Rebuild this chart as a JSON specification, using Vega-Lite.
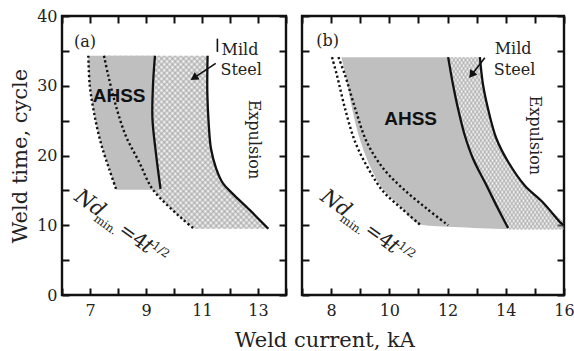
{
  "$schema": "https://vega.github.io/schema/vega-lite/v6.json",
  "background": "white",
  "padding": {"left": 8, "top": 6, "right": 2, "bottom": 2},
  "title": {"text": "Weld current, kA", "orient": "bottom", "anchor": "middle", "font": "DejaVu Serif", "fontSize": 21, "fontWeight": "normal", "color": "#222", "offset": 11, "dx": 33},
  "config": {
    "view": {"stroke": "#111", "strokeWidth": 2.4},
    "concat": {"spacing": 10},
    "axis": {"domain": false, "grid": false, "ticks": true, "tickSize": -7, "tickWidth": 2, "tickColor": "#111", "labelFont": "DejaVu Serif", "labelFontSize": 16, "labelColor": "#222", "labelPadding": 12, "labelFlush": false, "labelOverlap": false, "titleFont": "DejaVu Serif", "titleFontSize": 21, "titleFontWeight": "normal", "titleColor": "#222", "titlePadding": 6, "minExtent": 0},
    "axisX": {"labelPadding": 14},
    "style": {
      "h1": {"color": {"gradient": "linear", "x1": 0, "y1": 0, "x2": 1, "y2": 1, "stops": [
        {"offset":0,"color":"#99999990"},{"offset":0.0083,"color":"#99999900"},{"offset":0.0167,"color":"#99999990"},{"offset":0.025,"color":"#99999900"},{"offset":0.0333,"color":"#99999990"},{"offset":0.0417,"color":"#99999900"},{"offset":0.05,"color":"#99999990"},{"offset":0.0583,"color":"#99999900"},{"offset":0.0667,"color":"#99999990"},{"offset":0.075,"color":"#99999900"},{"offset":0.0833,"color":"#99999990"},{"offset":0.0917,"color":"#99999900"},
        {"offset":0.1,"color":"#99999990"},{"offset":0.1083,"color":"#99999900"},{"offset":0.1167,"color":"#99999990"},{"offset":0.125,"color":"#99999900"},{"offset":0.1333,"color":"#99999990"},{"offset":0.1417,"color":"#99999900"},{"offset":0.15,"color":"#99999990"},{"offset":0.1583,"color":"#99999900"},{"offset":0.1667,"color":"#99999990"},{"offset":0.175,"color":"#99999900"},{"offset":0.1833,"color":"#99999990"},{"offset":0.1917,"color":"#99999900"},
        {"offset":0.2,"color":"#99999990"},{"offset":0.2083,"color":"#99999900"},{"offset":0.2167,"color":"#99999990"},{"offset":0.225,"color":"#99999900"},{"offset":0.2333,"color":"#99999990"},{"offset":0.2417,"color":"#99999900"},{"offset":0.25,"color":"#99999990"},{"offset":0.2583,"color":"#99999900"},{"offset":0.2667,"color":"#99999990"},{"offset":0.275,"color":"#99999900"},{"offset":0.2833,"color":"#99999990"},{"offset":0.2917,"color":"#99999900"},
        {"offset":0.3,"color":"#99999990"},{"offset":0.3083,"color":"#99999900"},{"offset":0.3167,"color":"#99999990"},{"offset":0.325,"color":"#99999900"},{"offset":0.3333,"color":"#99999990"},{"offset":0.3417,"color":"#99999900"},{"offset":0.35,"color":"#99999990"},{"offset":0.3583,"color":"#99999900"},{"offset":0.3667,"color":"#99999990"},{"offset":0.375,"color":"#99999900"},{"offset":0.3833,"color":"#99999990"},{"offset":0.3917,"color":"#99999900"},
        {"offset":0.4,"color":"#99999990"},{"offset":0.4083,"color":"#99999900"},{"offset":0.4167,"color":"#99999990"},{"offset":0.425,"color":"#99999900"},{"offset":0.4333,"color":"#99999990"},{"offset":0.4417,"color":"#99999900"},{"offset":0.45,"color":"#99999990"},{"offset":0.4583,"color":"#99999900"},{"offset":0.4667,"color":"#99999990"},{"offset":0.475,"color":"#99999900"},{"offset":0.4833,"color":"#99999990"},{"offset":0.4917,"color":"#99999900"},
        {"offset":0.5,"color":"#99999990"},{"offset":0.5083,"color":"#99999900"},{"offset":0.5167,"color":"#99999990"},{"offset":0.525,"color":"#99999900"},{"offset":0.5333,"color":"#99999990"},{"offset":0.5417,"color":"#99999900"},{"offset":0.55,"color":"#99999990"},{"offset":0.5583,"color":"#99999900"},{"offset":0.5667,"color":"#99999990"},{"offset":0.575,"color":"#99999900"},{"offset":0.5833,"color":"#99999990"},{"offset":0.5917,"color":"#99999900"},
        {"offset":0.6,"color":"#99999990"},{"offset":0.6083,"color":"#99999900"},{"offset":0.6167,"color":"#99999990"},{"offset":0.625,"color":"#99999900"},{"offset":0.6333,"color":"#99999990"},{"offset":0.6417,"color":"#99999900"},{"offset":0.65,"color":"#99999990"},{"offset":0.6583,"color":"#99999900"},{"offset":0.6667,"color":"#99999990"},{"offset":0.675,"color":"#99999900"},{"offset":0.6833,"color":"#99999990"},{"offset":0.6917,"color":"#99999900"},
        {"offset":0.7,"color":"#99999990"},{"offset":0.7083,"color":"#99999900"},{"offset":0.7167,"color":"#99999990"},{"offset":0.725,"color":"#99999900"},{"offset":0.7333,"color":"#99999990"},{"offset":0.7417,"color":"#99999900"},{"offset":0.75,"color":"#99999990"},{"offset":0.7583,"color":"#99999900"},{"offset":0.7667,"color":"#99999990"},{"offset":0.775,"color":"#99999900"},{"offset":0.7833,"color":"#99999990"},{"offset":0.7917,"color":"#99999900"},
        {"offset":0.8,"color":"#99999990"},{"offset":0.8083,"color":"#99999900"},{"offset":0.8167,"color":"#99999990"},{"offset":0.825,"color":"#99999900"},{"offset":0.8333,"color":"#99999990"},{"offset":0.8417,"color":"#99999900"},{"offset":0.85,"color":"#99999990"},{"offset":0.8583,"color":"#99999900"},{"offset":0.8667,"color":"#99999990"},{"offset":0.875,"color":"#99999900"},{"offset":0.8833,"color":"#99999990"},{"offset":0.8917,"color":"#99999900"},
        {"offset":0.9,"color":"#99999990"},{"offset":0.9083,"color":"#99999900"},{"offset":0.9167,"color":"#99999990"},{"offset":0.925,"color":"#99999900"},{"offset":0.9333,"color":"#99999990"},{"offset":0.9417,"color":"#99999900"},{"offset":0.95,"color":"#99999990"},{"offset":0.9583,"color":"#99999900"},{"offset":0.9667,"color":"#99999990"},{"offset":0.975,"color":"#99999900"},{"offset":0.9833,"color":"#99999990"},{"offset":0.9917,"color":"#99999900"},
        {"offset":1,"color":"#99999990"}]}},
      "h2": {"color": {"gradient": "linear", "x1": 1, "y1": 0, "x2": 0, "y2": 1, "stops": [
        {"offset":0,"color":"#99999990"},{"offset":0.0083,"color":"#99999900"},{"offset":0.0167,"color":"#99999990"},{"offset":0.025,"color":"#99999900"},{"offset":0.0333,"color":"#99999990"},{"offset":0.0417,"color":"#99999900"},{"offset":0.05,"color":"#99999990"},{"offset":0.0583,"color":"#99999900"},{"offset":0.0667,"color":"#99999990"},{"offset":0.075,"color":"#99999900"},{"offset":0.0833,"color":"#99999990"},{"offset":0.0917,"color":"#99999900"},
        {"offset":0.1,"color":"#99999990"},{"offset":0.1083,"color":"#99999900"},{"offset":0.1167,"color":"#99999990"},{"offset":0.125,"color":"#99999900"},{"offset":0.1333,"color":"#99999990"},{"offset":0.1417,"color":"#99999900"},{"offset":0.15,"color":"#99999990"},{"offset":0.1583,"color":"#99999900"},{"offset":0.1667,"color":"#99999990"},{"offset":0.175,"color":"#99999900"},{"offset":0.1833,"color":"#99999990"},{"offset":0.1917,"color":"#99999900"},
        {"offset":0.2,"color":"#99999990"},{"offset":0.2083,"color":"#99999900"},{"offset":0.2167,"color":"#99999990"},{"offset":0.225,"color":"#99999900"},{"offset":0.2333,"color":"#99999990"},{"offset":0.2417,"color":"#99999900"},{"offset":0.25,"color":"#99999990"},{"offset":0.2583,"color":"#99999900"},{"offset":0.2667,"color":"#99999990"},{"offset":0.275,"color":"#99999900"},{"offset":0.2833,"color":"#99999990"},{"offset":0.2917,"color":"#99999900"},
        {"offset":0.3,"color":"#99999990"},{"offset":0.3083,"color":"#99999900"},{"offset":0.3167,"color":"#99999990"},{"offset":0.325,"color":"#99999900"},{"offset":0.3333,"color":"#99999990"},{"offset":0.3417,"color":"#99999900"},{"offset":0.35,"color":"#99999990"},{"offset":0.3583,"color":"#99999900"},{"offset":0.3667,"color":"#99999990"},{"offset":0.375,"color":"#99999900"},{"offset":0.3833,"color":"#99999990"},{"offset":0.3917,"color":"#99999900"},
        {"offset":0.4,"color":"#99999990"},{"offset":0.4083,"color":"#99999900"},{"offset":0.4167,"color":"#99999990"},{"offset":0.425,"color":"#99999900"},{"offset":0.4333,"color":"#99999990"},{"offset":0.4417,"color":"#99999900"},{"offset":0.45,"color":"#99999990"},{"offset":0.4583,"color":"#99999900"},{"offset":0.4667,"color":"#99999990"},{"offset":0.475,"color":"#99999900"},{"offset":0.4833,"color":"#99999990"},{"offset":0.4917,"color":"#99999900"},
        {"offset":0.5,"color":"#99999990"},{"offset":0.5083,"color":"#99999900"},{"offset":0.5167,"color":"#99999990"},{"offset":0.525,"color":"#99999900"},{"offset":0.5333,"color":"#99999990"},{"offset":0.5417,"color":"#99999900"},{"offset":0.55,"color":"#99999990"},{"offset":0.5583,"color":"#99999900"},{"offset":0.5667,"color":"#99999990"},{"offset":0.575,"color":"#99999900"},{"offset":0.5833,"color":"#99999990"},{"offset":0.5917,"color":"#99999900"},
        {"offset":0.6,"color":"#99999990"},{"offset":0.6083,"color":"#99999900"},{"offset":0.6167,"color":"#99999990"},{"offset":0.625,"color":"#99999900"},{"offset":0.6333,"color":"#99999990"},{"offset":0.6417,"color":"#99999900"},{"offset":0.65,"color":"#99999990"},{"offset":0.6583,"color":"#99999900"},{"offset":0.6667,"color":"#99999990"},{"offset":0.675,"color":"#99999900"},{"offset":0.6833,"color":"#99999990"},{"offset":0.6917,"color":"#99999900"},
        {"offset":0.7,"color":"#99999990"},{"offset":0.7083,"color":"#99999900"},{"offset":0.7167,"color":"#99999990"},{"offset":0.725,"color":"#99999900"},{"offset":0.7333,"color":"#99999990"},{"offset":0.7417,"color":"#99999900"},{"offset":0.75,"color":"#99999990"},{"offset":0.7583,"color":"#99999900"},{"offset":0.7667,"color":"#99999990"},{"offset":0.775,"color":"#99999900"},{"offset":0.7833,"color":"#99999990"},{"offset":0.7917,"color":"#99999900"},
        {"offset":0.8,"color":"#99999990"},{"offset":0.8083,"color":"#99999900"},{"offset":0.8167,"color":"#99999990"},{"offset":0.825,"color":"#99999900"},{"offset":0.8333,"color":"#99999990"},{"offset":0.8417,"color":"#99999900"},{"offset":0.85,"color":"#99999990"},{"offset":0.8583,"color":"#99999900"},{"offset":0.8667,"color":"#99999990"},{"offset":0.875,"color":"#99999900"},{"offset":0.8833,"color":"#99999990"},{"offset":0.8917,"color":"#99999900"},
        {"offset":0.9,"color":"#99999990"},{"offset":0.9083,"color":"#99999900"},{"offset":0.9167,"color":"#99999990"},{"offset":0.925,"color":"#99999900"},{"offset":0.9333,"color":"#99999990"},{"offset":0.9417,"color":"#99999900"},{"offset":0.95,"color":"#99999990"},{"offset":0.9583,"color":"#99999900"},{"offset":0.9667,"color":"#99999990"},{"offset":0.975,"color":"#99999900"},{"offset":0.9833,"color":"#99999990"},{"offset":0.9917,"color":"#99999900"},
        {"offset":1,"color":"#99999990"}]}}
    }
  },
  "datasets": {
    "lines": [
      {"p":"a","s":"outer","x":6.94,"y":34.3},{"p":"a","s":"outer","x":6.99,"y":30.1},{"p":"a","s":"outer","x":7.14,"y":26.2},{"p":"a","s":"outer","x":7.38,"y":21.9},{"p":"a","s":"outer","x":7.68,"y":18.1},{"p":"a","s":"outer","x":7.94,"y":15.1},
      {"p":"a","s":"inner","x":7.5,"y":34.3},{"p":"a","s":"inner","x":7.65,"y":31.5},{"p":"a","s":"inner","x":7.92,"y":27.2},{"p":"a","s":"inner","x":8.27,"y":22.9},{"p":"a","s":"inner","x":8.75,"y":19.1},{"p":"a","s":"inner","x":9.23,"y":15.2},{"p":"a","s":"inner","x":9.94,"y":12.2},{"p":"a","s":"inner","x":10.3,"y":10.9},{"p":"a","s":"inner","x":10.68,"y":9.6},
      {"p":"a","s":"ahss","x":9.32,"y":34.3},{"p":"a","s":"ahss","x":9.25,"y":30.1},{"p":"a","s":"ahss","x":9.23,"y":25.3},{"p":"a","s":"ahss","x":9.35,"y":20.5},{"p":"a","s":"ahss","x":9.52,"y":15.2},
      {"p":"a","s":"mild","x":11.2,"y":34.3},{"p":"a","s":"mild","x":11.19,"y":29},{"p":"a","s":"mild","x":11.24,"y":24.5},{"p":"a","s":"mild","x":11.32,"y":21},{"p":"a","s":"mild","x":11.5,"y":18.2},{"p":"a","s":"mild","x":11.75,"y":16},{"p":"a","s":"mild","x":12.1,"y":14.5},{"p":"a","s":"mild","x":12.7,"y":12.2},{"p":"a","s":"mild","x":13.37,"y":9.5},
      {"p":"a","s":"arrow","x":11.49,"y":33.2},{"p":"a","s":"arrow","x":10.75,"y":31.24},
      {"p":"a","s":"bar","x":11.55,"y":36.75},{"p":"a","s":"bar","x":11.55,"y":34.85},
      {"p":"b","s":"outer","x":8.03,"y":34.1},{"p":"b","s":"outer","x":8.2,"y":31.5},{"p":"b","s":"outer","x":8.48,"y":26.7},{"p":"b","s":"outer","x":8.83,"y":21.9},{"p":"b","s":"outer","x":9.28,"y":18.1},{"p":"b","s":"outer","x":9.8,"y":14.8},{"p":"b","s":"outer","x":10.42,"y":12.4},{"p":"b","s":"outer","x":11.05,"y":10.1},
      {"p":"b","s":"inner","x":8.25,"y":34.1},{"p":"b","s":"inner","x":8.48,"y":31.5},{"p":"b","s":"inner","x":8.83,"y":26.7},{"p":"b","s":"inner","x":9.23,"y":21.9},{"p":"b","s":"inner","x":9.8,"y":18.1},{"p":"b","s":"inner","x":10.48,"y":15.2},{"p":"b","s":"inner","x":11.28,"y":12.4},{"p":"b","s":"inner","x":12.02,"y":10.0},
      {"p":"b","s":"ahss","x":12.02,"y":34.1},{"p":"b","s":"ahss","x":12.19,"y":30.1},{"p":"b","s":"ahss","x":12.36,"y":26.7},{"p":"b","s":"ahss","x":12.59,"y":22.9},{"p":"b","s":"ahss","x":12.88,"y":19.5},{"p":"b","s":"ahss","x":13.34,"y":15.7},{"p":"b","s":"ahss","x":13.73,"y":12.4},{"p":"b","s":"ahss","x":14.08,"y":9.6},
      {"p":"b","s":"mild","x":13.11,"y":34.1},{"p":"b","s":"mild","x":13.22,"y":30.1},{"p":"b","s":"mild","x":13.39,"y":26.7},{"p":"b","s":"mild","x":13.68,"y":22.4},{"p":"b","s":"mild","x":14.08,"y":19.1},{"p":"b","s":"mild","x":14.65,"y":15.7},{"p":"b","s":"mild","x":15.27,"y":13.3},{"p":"b","s":"mild","x":15.9,"y":10.3},{"p":"b","s":"mild","x":16,"y":10.0},
      {"p":"b","s":"arrow","x":13.28,"y":34.0},{"p":"b","s":"arrow","x":12.85,"y":31.7}
    ],
    "areas": [
      {"p":"a","r":"gray","y":34.3,"xl":6.94,"xr":9.32},{"p":"a","r":"gray","y":30.1,"xl":6.99,"xr":9.25},{"p":"a","r":"gray","y":26.2,"xl":7.14,"xr":9.23},{"p":"a","r":"gray","y":21.9,"xl":7.38,"xr":9.3},{"p":"a","r":"gray","y":18.1,"xl":7.68,"xr":9.41},{"p":"a","r":"gray","y":15.1,"xl":7.94,"xr":9.52},
      {"p":"a","r":"hatch","y":34.3,"xl":7.5,"xr":11.2},{"p":"a","r":"hatch","y":31.5,"xl":7.65,"xr":11.19},{"p":"a","r":"hatch","y":27.2,"xl":7.92,"xr":11.2},{"p":"a","r":"hatch","y":22.9,"xl":8.27,"xr":11.26},{"p":"a","r":"hatch","y":19.1,"xl":8.75,"xr":11.43},{"p":"a","r":"hatch","y":15.2,"xl":9.23,"xr":11.92},{"p":"a","r":"hatch","y":12.2,"xl":9.94,"xr":12.7},{"p":"a","r":"hatch","y":10.9,"xl":10.3,"xr":13.02},{"p":"a","r":"hatch","y":9.5,"xl":10.7,"xr":13.37},
      {"p":"b","r":"gray","y":34.1,"xl":8.35,"xr":12.02},{"p":"b","r":"gray","y":31.5,"xl":8.5,"xr":12.13},{"p":"b","r":"gray","y":26.7,"xl":8.72,"xr":12.36},{"p":"b","r":"gray","y":21.9,"xl":9.02,"xr":12.68},{"p":"b","r":"gray","y":18.1,"xl":9.38,"xr":13.05},{"p":"b","r":"gray","y":14.8,"xl":9.85,"xr":13.45},{"p":"b","r":"gray","y":12.4,"xl":10.45,"xr":13.73},{"p":"b","r":"gray","y":10.1,"xl":11.05,"xr":14.02},{"p":"b","r":"gray","y":9.45,"xl":13.9,"xr":14.09},
      {"p":"b","r":"hatch","y":34.1,"xl":12.02,"xr":13.11},{"p":"b","r":"hatch","y":30.1,"xl":12.19,"xr":13.22},{"p":"b","r":"hatch","y":26.7,"xl":12.36,"xr":13.39},{"p":"b","r":"hatch","y":22.9,"xl":12.59,"xr":13.65},{"p":"b","r":"hatch","y":19.5,"xl":12.88,"xr":14.03},{"p":"b","r":"hatch","y":15.7,"xl":13.34,"xr":14.65},{"p":"b","r":"hatch","y":12.4,"xl":13.73,"xr":15.46},{"p":"b","r":"hatch","y":10.0,"xl":14.03,"xr":16.0},{"p":"b","r":"hatch","y":9.4,"xl":14.1,"xr":16.0}
    ],
    "heads": [
      {"p":"a","x":10.75,"y":31.24},
      {"p":"b","x":12.85,"y":31.7}
    ],
    "labels": [
      {"p":"a","k":"serif","t":"(a)","x":6.43,"y":36.3},{"p":"a","k":"serif","t":"Mild","x":11.7,"y":35.15},{"p":"a","k":"serif","t":"Steel","x":11.66,"y":32.2},
      {"p":"b","k":"serif","t":"(b)","x":7.49,"y":36.4},{"p":"b","k":"serif","t":"Mild","x":13.62,"y":35.3},{"p":"b","k":"serif","t":"Steel","x":13.59,"y":32.3},
      {"p":"a","k":"ahss","t":"AHSS","x":8.04,"y":28.5},{"p":"b","k":"ahss","t":"AHSS","x":10.73,"y":25.2},
      {"p":"a","k":"exp","t":"Expulsion","x":12.86,"y":22.3},{"p":"b","k":"exp","t":"Expulsion","x":14.99,"y":22.9},
      {"p":"a","k":"it","t":"Nd","x":6.99,"y":13.1},{"p":"a","k":"it","t":"t","x":9.05,"y":6.9},
      {"p":"b","k":"it","t":"Nd","x":8.16,"y":13.1},{"p":"b","k":"it","t":"t","x":10.14,"y":6.9},
      {"p":"a","k":"rm","t":"=4","x":8.53,"y":8.43},{"p":"b","k":"rm","t":"=4","x":9.64,"y":8.43},
      {"p":"a","k":"sm","t":"min.","x":7.54,"y":10.0},{"p":"a","k":"sm","t":"1/2","x":9.52,"y":6.4},
      {"p":"b","k":"sm","t":"min.","x":8.69,"y":10.0},{"p":"b","k":"sm","t":"1/2","x":10.6,"y":6.4}
    ]
  },
  "hconcat": [
    {
      "width": 224, "height": 279,
      "resolve": {"axis": {"x": "independent", "y": "independent"}},
      "encoding": {
        "x": {"field": "x", "type": "quantitative", "scale": {"domain": [6, 14], "nice": false, "zero": false}, "axis": null},
        "y": {"field": "y", "type": "quantitative", "scale": {"domain": [0, 40], "nice": false}, "axis": null}
      },
      "layer": [
        {"data": {"name": "areas"}, "transform": [{"filter": "datum.p=='a' && datum.r=='hatch'"}],
         "mark": {"type": "area", "orient": "horizontal", "style": "h1", "interpolate": "monotone", "opacity": 1},
         "encoding": {
           "y": {"field": "y", "type": "quantitative", "scale": {"domain": [0, 40], "nice": false}, "axis": {"orient": "left", "values": [0,5,10,15,20,25,30,35,40], "labelExpr": "datum.value % 10 == 0 ? datum.label : ''", "title": "Weld time, cycle"}},
           "x": {"field": "xl", "type": "quantitative", "scale": {"domain": [6, 14], "nice": false, "zero": false}, "axis": {"orient": "bottom", "values": [6,7,8,9,10,11,12,13,14], "labelExpr": "datum.value % 2 == 1 ? datum.label : ''", "title": null}},
           "x2": {"field": "xr"}}},
        {"data": {"name": "areas"}, "transform": [{"filter": "datum.p=='a' && datum.r=='hatch'"}],
         "mark": {"type": "area", "orient": "horizontal", "style": "h2", "interpolate": "monotone", "opacity": 1},
         "encoding": {
           "y": {"field": "y", "type": "quantitative", "scale": {"domain": [0, 40], "nice": false}, "axis": {"orient": "right", "values": [0,5,10,15,20,25,30,35,40], "labels": false, "title": null}},
           "x": {"field": "xl", "type": "quantitative", "scale": {"domain": [6, 14], "nice": false, "zero": false}, "axis": {"orient": "top", "values": [6,7,8,9,10,11,12,13,14], "labels": false, "title": null}},
           "x2": {"field": "xr"}}},
        {"data": {"name": "areas"}, "transform": [{"filter": "datum.p=='a' && datum.r=='gray'"}],
         "mark": {"type": "area", "orient": "horizontal", "fill": "#bfbfbf", "opacity": 1, "interpolate": "monotone"},
         "encoding": {"x": {"field": "xl", "type": "quantitative", "scale": {"domain": [6, 14], "nice": false, "zero": false}, "axis": null}, "x2": {"field": "xr"}}},
        {"data": {"name": "lines"}, "transform": [{"filter": "datum.p=='a' && (datum.s=='outer' || datum.s=='inner')"}],
         "mark": {"type": "line", "color": "#111", "strokeWidth": 2.4, "strokeDash": [2.2, 2.6], "interpolate": "catmull-rom"},
         "encoding": {"detail": {"field": "s"}, "order": {"field": "y", "type": "quantitative", "sort": "descending"}}},
        {"data": {"name": "lines"}, "transform": [{"filter": "datum.p=='a' && (datum.s=='ahss' || datum.s=='mild')"}],
         "mark": {"type": "line", "color": "#111", "strokeWidth": 2.3, "interpolate": "catmull-rom"},
         "encoding": {"detail": {"field": "s"}, "order": {"field": "y", "type": "quantitative", "sort": "descending"}}},
        {"data": {"name": "lines"}, "transform": [{"filter": "datum.p=='a' && (datum.s=='arrow' || datum.s=='bar')"}],
         "mark": {"type": "line", "color": "#111", "strokeWidth": 1.6},
         "encoding": {"detail": {"field": "s"}, "order": {"field": "y", "type": "quantitative", "sort": "descending"}}},
        {"data": {"name": "heads"}, "transform": [{"filter": "datum.p=='a'"}],
         "mark": {"type": "point", "shape": "triangle", "filled": true, "color": "#111", "size": 80, "angle": 237, "opacity": 1}},
        {"data": {"name": "labels"}, "transform": [{"filter": "datum.p=='a' && datum.k=='serif'"}],
         "mark": {"type": "text", "font": "DejaVu Serif", "fontSize": 16, "align": "left", "baseline": "middle", "color": "#222"},
         "encoding": {"text": {"field": "t"}}},
        {"data": {"name": "labels"}, "transform": [{"filter": "datum.p=='a' && datum.k=='ahss'"}],
         "mark": {"type": "text", "font": "Liberation Sans", "fontWeight": "bold", "fontSize": 19, "align": "center", "baseline": "middle", "color": "#111"},
         "encoding": {"text": {"field": "t"}}},
        {"data": {"name": "labels"}, "transform": [{"filter": "datum.p=='a' && datum.k=='exp'"}],
         "mark": {"type": "text", "font": "DejaVu Serif", "fontSize": 16, "angle": 90, "align": "center", "baseline": "middle", "color": "#222"},
         "encoding": {"text": {"field": "t"}}},
        {"data": {"name": "labels"}, "transform": [{"filter": "datum.p=='a' && datum.k=='it'"}],
         "mark": {"type": "text", "font": "DejaVu Serif", "fontStyle": "italic", "fontSize": 21, "angle": 36, "align": "center", "baseline": "middle", "color": "#222"},
         "encoding": {"text": {"field": "t"}}},
        {"data": {"name": "labels"}, "transform": [{"filter": "datum.p=='a' && datum.k=='rm'"}],
         "mark": {"type": "text", "font": "DejaVu Serif", "fontSize": 20, "angle": 36, "align": "center", "baseline": "middle", "color": "#222"},
         "encoding": {"text": {"field": "t"}}},
        {"data": {"name": "labels"}, "transform": [{"filter": "datum.p=='a' && datum.k=='sm'"}],
         "mark": {"type": "text", "font": "DejaVu Serif", "fontSize": 11.5, "angle": 36, "align": "center", "baseline": "middle", "color": "#222"},
         "encoding": {"text": {"field": "t"}}}
      ]
    },
    {
      "width": 262, "height": 279,
      "resolve": {"axis": {"x": "independent", "y": "independent"}},
      "encoding": {
        "x": {"field": "x", "type": "quantitative", "scale": {"domain": [7, 16], "nice": false, "zero": false}, "axis": null},
        "y": {"field": "y", "type": "quantitative", "scale": {"domain": [0, 40], "nice": false}, "axis": null}
      },
      "layer": [
        {"data": {"name": "areas"}, "transform": [{"filter": "datum.p=='b' && datum.r=='hatch'"}],
         "mark": {"type": "area", "orient": "horizontal", "style": "h1", "interpolate": "monotone", "opacity": 1},
         "encoding": {
           "y": {"field": "y", "type": "quantitative", "scale": {"domain": [0, 40], "nice": false}, "axis": {"orient": "left", "values": [0,5,10,15,20,25,30,35,40], "labels": false, "title": null}},
           "x": {"field": "xl", "type": "quantitative", "scale": {"domain": [7, 16], "nice": false, "zero": false}, "axis": {"orient": "bottom", "values": [7,8,9,10,11,12,13,14,15,16], "labelExpr": "datum.value % 2 == 0 ? datum.label : ''", "title": null}},
           "x2": {"field": "xr"}}},
        {"data": {"name": "areas"}, "transform": [{"filter": "datum.p=='b' && datum.r=='hatch'"}],
         "mark": {"type": "area", "orient": "horizontal", "style": "h2", "interpolate": "monotone", "opacity": 1},
         "encoding": {
           "y": {"field": "y", "type": "quantitative", "scale": {"domain": [0, 40], "nice": false}, "axis": {"orient": "right", "values": [0,5,10,15,20,25,30,35,40], "labels": false, "title": null}},
           "x": {"field": "xl", "type": "quantitative", "scale": {"domain": [7, 16], "nice": false, "zero": false}, "axis": {"orient": "top", "values": [7,8,9,10,11,12,13,14,15,16], "labels": false, "title": null}},
           "x2": {"field": "xr"}}},
        {"data": {"name": "areas"}, "transform": [{"filter": "datum.p=='b' && datum.r=='gray'"}],
         "mark": {"type": "area", "orient": "horizontal", "fill": "#bfbfbf", "opacity": 1, "interpolate": "monotone"},
         "encoding": {"x": {"field": "xl", "type": "quantitative", "scale": {"domain": [7, 16], "nice": false, "zero": false}, "axis": null}, "x2": {"field": "xr"}}},
        {"data": {"name": "lines"}, "transform": [{"filter": "datum.p=='b' && (datum.s=='outer' || datum.s=='inner')"}],
         "mark": {"type": "line", "color": "#111", "strokeWidth": 2.4, "strokeDash": [2.2, 2.6], "interpolate": "catmull-rom"},
         "encoding": {"detail": {"field": "s"}, "order": {"field": "y", "type": "quantitative", "sort": "descending"}}},
        {"data": {"name": "lines"}, "transform": [{"filter": "datum.p=='b' && (datum.s=='ahss' || datum.s=='mild')"}],
         "mark": {"type": "line", "color": "#111", "strokeWidth": 2.3, "interpolate": "catmull-rom"},
         "encoding": {"detail": {"field": "s"}, "order": {"field": "y", "type": "quantitative", "sort": "descending"}}},
        {"data": {"name": "lines"}, "transform": [{"filter": "datum.p=='b' && datum.s=='arrow'"}],
         "mark": {"type": "line", "color": "#111", "strokeWidth": 1.6},
         "encoding": {"detail": {"field": "s"}, "order": {"field": "y", "type": "quantitative", "sort": "descending"}}},
        {"data": {"name": "heads"}, "transform": [{"filter": "datum.p=='b'"}],
         "mark": {"type": "point", "shape": "triangle", "filled": true, "color": "#111", "size": 80, "angle": 218, "opacity": 1}},
        {"data": {"name": "labels"}, "transform": [{"filter": "datum.p=='b' && datum.k=='serif'"}],
         "mark": {"type": "text", "font": "DejaVu Serif", "fontSize": 16, "align": "left", "baseline": "middle", "color": "#222"},
         "encoding": {"text": {"field": "t"}}},
        {"data": {"name": "labels"}, "transform": [{"filter": "datum.p=='b' && datum.k=='ahss'"}],
         "mark": {"type": "text", "font": "Liberation Sans", "fontWeight": "bold", "fontSize": 19, "align": "center", "baseline": "middle", "color": "#111"},
         "encoding": {"text": {"field": "t"}}},
        {"data": {"name": "labels"}, "transform": [{"filter": "datum.p=='b' && datum.k=='exp'"}],
         "mark": {"type": "text", "font": "DejaVu Serif", "fontSize": 16, "angle": 90, "align": "center", "baseline": "middle", "color": "#222"},
         "encoding": {"text": {"field": "t"}}},
        {"data": {"name": "labels"}, "transform": [{"filter": "datum.p=='b' && datum.k=='it'"}],
         "mark": {"type": "text", "font": "DejaVu Serif", "fontStyle": "italic", "fontSize": 21, "angle": 36, "align": "center", "baseline": "middle", "color": "#222"},
         "encoding": {"text": {"field": "t"}}},
        {"data": {"name": "labels"}, "transform": [{"filter": "datum.p=='b' && datum.k=='rm'"}],
         "mark": {"type": "text", "font": "DejaVu Serif", "fontSize": 20, "angle": 36, "align": "center", "baseline": "middle", "color": "#222"},
         "encoding": {"text": {"field": "t"}}},
        {"data": {"name": "labels"}, "transform": [{"filter": "datum.p=='b' && datum.k=='sm'"}],
         "mark": {"type": "text", "font": "DejaVu Serif", "fontSize": 11.5, "angle": 36, "align": "center", "baseline": "middle", "color": "#222"},
         "encoding": {"text": {"field": "t"}}}
      ]
    }
  ]
}
